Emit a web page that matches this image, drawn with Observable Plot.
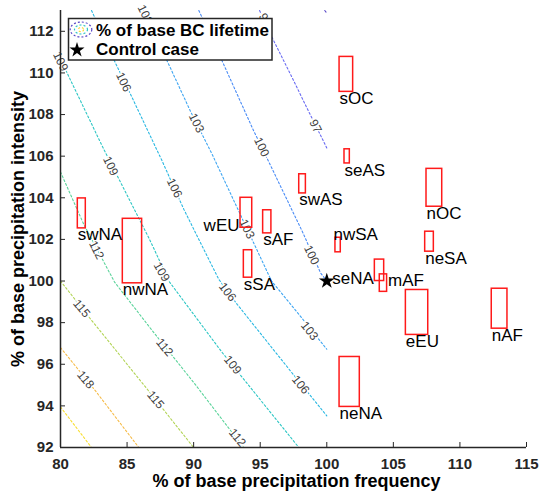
<!DOCTYPE html>
<html>
<head>
<meta charset="utf-8">
<script src="https://cdn.jsdelivr.net/npm/d3@7"></script>
<script src="https://cdn.jsdelivr.net/npm/@observablehq/plot@0.6"></script>
<style>
  html, body { margin: 0; padding: 0; background: white; }
  svg { display: block; }
</style>
</head>
<body>
<div id="chart"></div>
<script>
// ---------- data ----------
const xTicks = [80, 85, 90, 95, 100, 105, 110, 115];
const yTicks = [92, 94, 96, 98, 100, 102, 104, 106, 108, 110, 112];

// contour lines of % of base BC lifetime (freq %, intensity %)
const contourLevels = [94, 97, 100, 103, 106, 109, 112, 115, 118, 121];
const contourColors = ["#5a48c8", "#6a6cf2", "#4a8cf6", "#3fa6f2", "#2ab8e2", "#2cc6c4", "#5ad39a", "#b2d456", "#f6bc4a", "#f8de30"];
const c94  = [[99.85, 113], [100, 112.88]];
const c97  = [[94.95, 113], [95.92, 111.67], [97.27, 109.94], [98.63, 108.16], [99.75, 106.72], [100, 106.39]];
const c100 = [[90.39, 113], [92.15, 110.56], [94.52, 107.20], [95.62, 105.76], [98.25, 102.26], [99.53, 100.39], [100, 100]];
const c103 = [[86.23, 113], [88.13, 110.41], [89.76, 108.16], [91.39, 106.09], [93.27, 103.52], [95.85, 100.0], [97.90, 98.40], [100, 96.72]];
const c106 = [[82.33, 113], [84.13, 110.47], [85.39, 108.80], [87.64, 105.76], [89.26, 103.45], [91.89, 100.08], [93.27, 98.88], [97.27, 95.68], [100, 93.52]];
const c109 = [[80, 110.66], [83.25, 106.33], [86.63, 102.08], [88.19, 99.95], [92.15, 96.56], [97.90, 92]];
const c112 = [[80, 105.24], [81.75, 102.72], [84.06, 99.95], [87.01, 97.52], [90.01, 95.12], [93.75, 92]];
const c115 = [[80, 100], [82.25, 98.18], [86.38, 94.91], [90.0, 92]];
const c118 = [[80, 96.80], [82.63, 94.72], [85.88, 92]];
const c121 = [[80, 93.95], [82.33, 92]];
const contourPaths = [c94, c97, c100, c103, c106, c109, c112, c115, c118, c121];

// contour labels
const labelLevel = [97, 97, 100, 100, 103, 103, 103, 103, 106, 106, 106, 106, 109, 109, 109, 109, 112, 112, 112, 115, 115, 118];
const labelX = [95.35, 99.15, 95.10, 98.85, 86.35, 90.21, 94.01, 98.70, 84.73, 88.56, 92.54, 98.03, 80, 83.76, 87.59, 92.92, 82.70, 87.81, 93.29, 81.58, 87.14, 81.88];
const labelY = [112.55, 107.44, 106.44, 101.25, 112.80, 107.59, 102.50, 97.60, 109.56, 104.47, 99.47, 95.01, 110.55, 105.52, 100.44, 95.97, 101.49, 96.81, 92.47, 98.68, 94.29, 95.25];
const labelAngle = [63, 63, 64, 64, 64, 64, 64, 51, 64, 64, 52, 51, 64, 64, 60, 51, 63, 50, 50, 50, 50, 50];

// regions: ranges of precipitation frequency / intensity
const regionNames = ["sOC", "seAS", "nOC", "swAS", "sAF", "nwSA", "neSA", "seNA", "mAF", "eEU", "nAF", "neNA", "swNA", "nwNA", "wEU", "sSA"];
const freqMin = [100.96, 101.33, 107.49, 97.93, 95.22, 100.65, 107.39, 103.61, 103.98, 105.94, 112.39, 100.96, 81.30, 84.68, 93.52, 93.77];
const freqMax = [101.98, 101.73, 108.67, 98.43, 95.84, 101.05, 108.04, 104.31, 104.53, 107.62, 113.57, 102.48, 81.90, 86.13, 94.40, 94.40];
const intMin  = [109.09, 105.65, 103.57, 104.21, 102.29, 101.38, 101.41, 100.00, 99.48, 97.41, 97.71, 93.95, 102.53, 99.89, 102.56, 100.16];
const intMax  = [110.77, 106.33, 105.39, 105.13, 103.40, 102.08, 102.37, 101.03, 100.32, 99.57, 99.63, 96.35, 103.97, 102.99, 104.00, 101.48];
const labelSide = ["below", "below", "below", "below", "below", "above", "below", "left", "right", "below", "below", "below", "below", "below", "left", "below"];

const controlCase = [{freq: 100, int: 100}];

// ---------- tables ----------
const contourPts = contourLevels.flatMap((lvl, i) => contourPaths[i].map(([x, y]) => ({level: lvl, x, y})));
const contourLabels = labelLevel.map((l, i) => ({level: l, x: labelX[i], y: labelY[i], a: labelAngle[i]}));
const regions = regionNames.map((n, i) => ({name: n, x1: freqMin[i], x2: freqMax[i], y1: intMin[i], y2: intMax[i], side: labelSide[i]}));

const font = "'Liberation Sans', Arial, Helvetica, sans-serif";
const axisColor = "#262626";

const chart = Plot.plot({
  width: 541,
  height: 491,
  marginLeft: 60,
  marginRight: 15,
  marginTop: 10,
  marginBottom: 44,
  x: {domain: [80, 115]},
  y: {domain: [92, 113]},
  color: {type: "ordinal", domain: contourLevels, range: contourColors},
  style: {fontFamily: font, background: "white"},
  marks: [
    Plot.line(contourPts, {x: "x", y: "y", z: "level", stroke: "level", strokeWidth: 1.1, strokeDasharray: "2,2.2"}),
    ...contourLabels.map(d => Plot.text([d], {
      x: "x", y: "y", text: d => String(d.level), rotate: d.a,
      fontSize: 12, fill: "#404040", stroke: "white", strokeWidth: 3, paintOrder: "stroke"
    })),
    Plot.rect(regions, {x1: "x1", x2: "x2", y1: "y1", y2: "y2", fill: "none", stroke: "#ff1a1a", strokeWidth: 1.5}),
    Plot.text(regions.filter(d => d.side === "below"), {x: "x1", y: "y1", text: "name", textAnchor: "start", lineAnchor: "top", dy: 0, fontSize: 17, fill: "black"}),
    Plot.text(regions.filter(d => d.side === "left"), {x: "x1", y: "y1", text: "name", textAnchor: "end", lineAnchor: "bottom", dx: -1, dy: 3, fontSize: 17, fill: "black"}),
    Plot.text(regions.filter(d => d.side === "above"), {x: "x1", y: "y2", text: "name", textAnchor: "start", lineAnchor: "bottom", dx: -2, dy: 2, fontSize: 17, fill: "black"}),
    Plot.text(regions.filter(d => d.side === "right"), {x: "x2", y: "y2", text: "name", textAnchor: "start", lineAnchor: "top", dx: 1, dy: 0, fontSize: 17, fill: "black"}),
    Plot.dot(controlCase, {x: "freq", y: "int", symbol: "star", r: 5, fill: "black", stroke: "none"}),
    Plot.ruleY([92], {stroke: axisColor, strokeWidth: 1.5}),
    Plot.ruleX([80], {stroke: axisColor, strokeWidth: 1.5}),
    Plot.axisX({ticks: xTicks, tickSize: -5, tickPadding: 16, fontSize: 15, fontWeight: "bold", label: null, color: axisColor}),
    Plot.axisY({ticks: yTicks, tickSize: -5, tickPadding: 12, fontSize: 15, fontWeight: "bold", label: null, color: axisColor}),
    Plot.text(["% of base precipitation frequency"], {frameAnchor: "bottom", textAnchor: "middle", lineAnchor: "middle", dy: 34, dx: 3, fontSize: 18, fontWeight: "bold", fill: "black"}),
    Plot.text(["% of base precipitation intensity"], {frameAnchor: "left", textAnchor: "middle", lineAnchor: "middle", rotate: -90, dx: -42, fontSize: 18, fontWeight: "bold", fill: "black"})
  ]
});

document.getElementById("chart").appendChild(chart);

// ---------- legend (drawn over the plot area, top-left) ----------
const svg = d3.select(chart);
const lg = svg.append("g").attr("font-family", font).attr("text-anchor", "start");
lg.append("rect").attr("x", 68.5).attr("y", 18.5).attr("width", 203.5).attr("height", 41.5)
  .attr("fill", "white").attr("stroke", axisColor).attr("stroke-width", 1.5);
[[10.8, 7.5, "#5a48c8"], [6.5, 4.5, "#2cc6c4"], [2.6, 2.2, "#f8de30"]].forEach(([rx, ry, c]) => {
  lg.append("ellipse").attr("cx", 81).attr("cy", 29.5).attr("rx", rx).attr("ry", ry)
    .attr("fill", "none").attr("stroke", c).attr("stroke-width", 1.2).attr("stroke-dasharray", "2,2");
});
lg.append("text").attr("x", 96).attr("y", 30).attr("dy", "0.35em").attr("text-anchor", "start")
  .attr("font-size", 17).attr("font-weight", "bold").attr("fill", "black").text("% of base BC lifetime");
lg.append("path").attr("d", d3.symbol(d3.symbolStar, 70)()).attr("transform", "translate(77,50)").attr("fill", "black");
lg.append("text").attr("x", 96).attr("y", 49.5).attr("dy", "0.35em").attr("text-anchor", "start")
  .attr("font-size", 17).attr("font-weight", "bold").attr("fill", "black").text("Control case");
</script>
</body>
</html>
